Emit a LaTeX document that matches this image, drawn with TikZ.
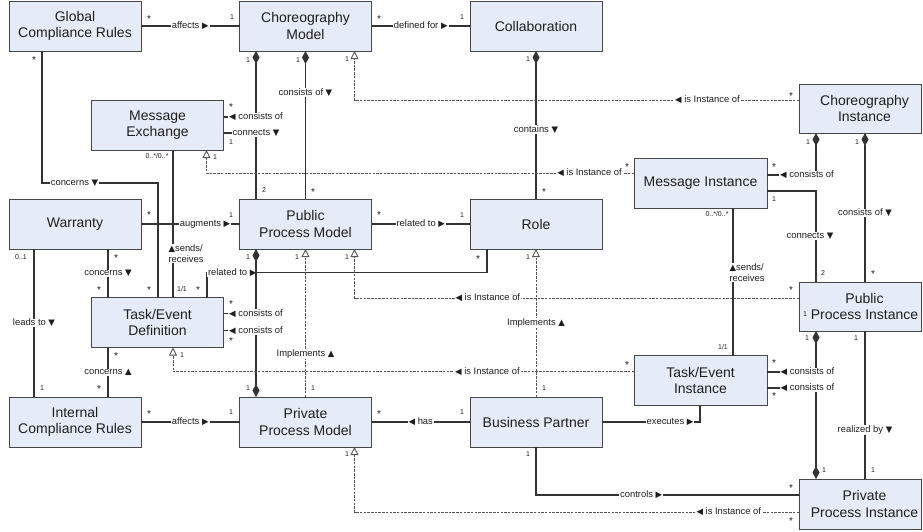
\documentclass[tikz,border=0pt]{standalone}
\usepackage{fontspec}
\setmainfont{Liberation Sans}
\newfontfamily\symf{DejaVu Sans}
\usetikzlibrary{arrows.meta,calc}
\definecolor{boxfill}{HTML}{E6ECF7}
\definecolor{boxline}{HTML}{474747}
\definecolor{lncol}{HTML}{333333}
\definecolor{dshcol}{HTML}{555555}
\definecolor{txt}{HTML}{1E1E1E}
\newcommand\tR{{\symf\fontsize{8.5}{8}\selectfont\char"25B6}}
\newcommand\tL{{\symf\fontsize{8.5}{8}\selectfont\char"25C0}}
\newcommand\tD{{\symf\fontsize{8.5}{8}\selectfont\char"25BC}}
\newcommand\tU{{\symf\fontsize{8.5}{8}\selectfont\char"25B2}}
\newcommand\rsh{\hspace*{9pt}}
\tikzset{
  box/.style={draw=boxline, fill=boxfill, line width=0.9pt, minimum width=132pt, minimum height=50pt,
    inner sep=0pt, outer sep=0pt, align=center, font=\fontsize{14}{16.7}\selectfont, text=txt},
  rbox/.style={box, minimum width=122pt, minimum height=49pt},
  mbox/.style={box, minimum width=133pt},
  ln/.style={draw=lncol, line width=1.1pt},
  dsh/.style={draw=dshcol, line width=0.9pt, dash pattern=on 2.5pt off 1.2pt},
  comp/.style={arrows={Diamond[length=13pt,width=7pt]-}},
  inst/.style={arrows={-Triangle[length=8pt,width=8pt,fill=white]}},
  lbl/.style={fill=white, inner xsep=1pt, inner ysep=0.5pt, font=\fontsize{9.4}{11}\selectfont, text=txt},
  m1/.style={inner sep=0pt, font=\fontsize{7}{8}\selectfont, text=txt},
  ms/.style={inner sep=0pt, font=\fontsize{10}{10}\selectfont, yshift=-2pt, text=txt},
}
\begin{document}
\begin{tikzpicture}[x=1pt,y=-1pt]
\useasboundingbox (0,0) rectangle (923,531);
% boxes
\node[box] (gcr) at (75,26) {Global\\Compliance Rules};
\node[box] (cm) at (305.5,26) {Choreography\\Model};
\node[box] (collab) at (536,26) {Collaboration};
\node[rbox] (ci) at (860,108.5) {\rsh Choreography\\\rsh Instance};
\node[box] (me) at (157.5,125) {Message\\Exchange};
\node[mbox] (mi) at (700.5,183) {Message Instance};
\node[box] (war) at (75,224) {Warranty};
\node[box] (ppm) at (305.5,224) {Public\\Process Model};
\node[box] (role) at (536,224) {Role};
\node[rbox] (ppi) at (860,306.5) {\rsh Public\\\rsh Process Instance};
\node[box] (ted) at (157.5,322.5) {Task/Event\\Definition};
\node[mbox] (tei) at (700.5,380.5) {Task/Event\\Instance};
\node[box] (icr) at (75,422) {Internal\\Compliance Rules};
\node[box] (privpm) at (305.5,422) {Private\\Process Model};
\node[box] (bp) at (536,422) {Business Partner};
\node[rbox, minimum height=50pt] (privpi) at (860,504) {\rsh Private\\\rsh Process Instance};
% connectors
\draw[ln] (gcr.east) -- node[lbl]{affects \tR} (cm.west);
\draw[ln] (cm.east) -- node[lbl]{defined for \tR} (collab.west);
\draw[ln,comp] (cm.south) -- node[lbl,pos=0.28]{consists of \tD} (ppm.north);
\draw[ln,comp] ($(cm.south west)+(16.5,0)$) |- node[lbl,pos=0.5]{\tL\ consists of} ($(me.north east)+(0,17)$);
\draw[ln] ($(me.north east)+(0,33)$) -| node[lbl,pos=0.5]{connects \tD} ($(ppm.north west)+(16.5,0)$);
\draw[ln,comp] (collab.south) -- node[lbl,pos=0.53]{contains \tD} (role.north);
\draw[dsh,inst] ($(ci.north west)+(0,16)$) -| node[lbl,pos=0.103]{\tL\ is Instance of} ($(cm.south west)+(115,0)$);
\draw[dsh,inst] ($(mi.north west)+(0,15)$) -| node[lbl,pos=0.052]{\tL\ is Instance of} ($(me.south west)+(115,0)$);
\draw[ln] ($(me.south west)+(81.5,0)$) -- node[lbl,pos=0.70,anchor=west,xshift=-6pt,align=left]{\tU sends/\\receives} ($(ted.north west)+(81.5,0)$);
\draw[ln] ($(gcr.south west)+(33,0)$) -- ++(0,132) -| node[lbl,pos=0.14]{concerns \tD} ($(ted.north west)+(66.5,0)$);
\draw[ln] (war.east) -- node[lbl,pos=0.65]{augments \tR} (ppm.west);
\draw[ln] ($(war.south west)+(99,0)$) -- node[lbl]{concerns \tD} ($(ted.north west)+(16.5,0)$);
\draw[ln] ($(war.south west)+(25,0)$) -- node[lbl]{leads to \tD} ($(icr.north west)+(25,0)$);
\draw[ln] ($(ted.north west)+(115.5,0)$) -- ++(0,-25) -| node[lbl,pos=0.045]{related to \tR} ($(role.south west)+(17,0)$);
\draw[ln] (ppm.east) -- node[lbl]{related to \tR} (role.west);
\draw[ln,comp] ($(ppm.south west)+(16.5,0)$) |- node[lbl,pos=0.5]{\tL\ consists of} ($(ted.north east)+(0,16)$);
\draw[ln,comp] ($(privpm.north west)+(16.5,0)$) |- node[lbl,pos=0.5]{\tL\ consists of} ($(ted.north east)+(0,33)$);
\draw[dsh,inst] ($(privpm.north west)+(66,0)$) -- node[lbl,pos=0.29]{Implements \tU} ($(ppm.south west)+(66,0)$);
\draw[dsh,inst] ($(ppi.north west)+(0,16)$) -| node[lbl,pos=0.35]{\tL\ is Instance of} ($(ppm.south west)+(115,0)$);
\draw[dsh,inst] (bp.north) -- node[lbl]{Implements \tU} (role.south);
\draw[dsh,inst] ($(tei.north west)+(0,16)$) -| node[lbl,pos=0.159]{\tL\ is Instance of} ($(ted.south west)+(81.5,0)$);
\draw[ln] ($(icr.north west)+(99,0)$) -- node[lbl]{concerns \tU} ($(ted.south west)+(16.5,0)$);
\draw[ln] (icr.east) -- node[lbl]{affects \tR} (privpm.west);
\draw[ln] (privpm.east) -- node[lbl]{\tL\ has} (bp.west);
\draw[ln] (bp.east) -| node[lbl,pos=0.347]{executes \tR} ($(tei.south west)+(66,0)$);
\draw[ln] (bp.south) |- node[lbl,pos=0.70]{controls \tR} ($(privpi.north west)+(0,16)$);
\draw[dsh,inst] ($(privpi.north west)+(0,33)$) -| node[lbl,pos=0.079]{\tL\ is Instance of} ($(privpm.south west)+(115,0)$);
\draw[ln,comp] ($(ci.south west)+(17,0)$) |- node[lbl,pos=0.5,xshift=-9pt]{\tL\ consists of} ($(mi.north east)+(0,17)$);
\draw[ln] ($(mi.north east)+(0,33)$) -| node[lbl,pos=0.747,xshift=-6pt]{connects \tD} ($(ppi.north west)+(17,0)$);
\draw[ln,comp] ($(ci.south west)+(66,0)$) -- node[lbl,pos=0.537]{consists of \tD} ($(ppi.north west)+(66,0)$);
\draw[ln] ($(mi.south west)+(99,0)$) -- node[lbl,pos=0.436,anchor=west,xshift=-5pt,align=left]{\tU sends/\\receives} ($(tei.north west)+(99,0)$);
\draw[ln,comp] ($(ppi.south west)+(17,0)$) |- node[lbl,pos=0.5,xshift=-8.5pt]{\tL\ consists of} ($(tei.north east)+(0,16.5)$);
\draw[ln,comp] ($(privpi.north west)+(17,0)$) |- node[lbl,pos=0.5,xshift=-8.5pt]{\tL\ consists of} ($(tei.north east)+(0,32.5)$);
\draw[ln] ($(ppi.south west)+(66,0)$) -- node[lbl,pos=0.669]{realized by \tD} ($(privpi.north west)+(66,0)$);
% multiplicities
\node[ms] (s1) at (149,17) {*};
\node[m1] (n1) at (232,17) {1};
\node[ms] (s2) at (379,17) {*};
\node[m1] (n2) at (462,17) {1};
\node[m1] (n3) at (248,60) {1};
\node[m1] (n4) at (298,60) {1};
\node[m1] (n5) at (347,59) {1};
\node[m1] (n6) at (528,59) {1};
\node[ms] (s3) at (34,58) {*};
\node[ms] (s4) at (231,105.5) {*};
\node[m1] (n7) at (231,142) {1};
\node[m1] (n8) at (157,156) {0..*/0..*};
\node[m1] (n9) at (215,157) {1};
\node[ms] (s5) at (791,94) {*};
\node[m1] (n10) at (808,142) {1};
\node[m1] (n11) at (857,142) {1};
\node[ms] (s6) at (627,165) {*};
\node[ms] (s7) at (774,165) {*};
\node[m1] (n12) at (774,199) {1};
\node[m1] (n13) at (717,214) {0..*/0..*};
\node[m1] (n14) at (264,190) {2};
\node[ms] (s8) at (313,190) {*};
\node[ms] (s9) at (544,190) {*};
\node[ms] (s10) at (149,213) {*};
\node[m1] (n15) at (231,215) {1};
\node[ms] (s11) at (379,213) {*};
\node[m1] (n16) at (462,215) {1};
\node[m1] (n17) at (21,257) {0..1};
\node[ms] (s12) at (116,256) {*};
\node[m1] (n18) at (248,257) {1};
\node[m1] (n19) at (297,257) {1};
\node[m1] (n20) at (347,257) {1};
\node[ms] (s13) at (478,257) {*};
\node[m1] (n21) at (528,257) {1};
\node[ms] (s14) at (99,288) {*};
\node[ms] (s15) at (149,288) {*};
\node[m1] (n22) at (182,289) {1/1};
\node[ms] (s16) at (198,288) {*};
\node[ms] (s17) at (231,302.5) {*};
\node[ms] (s18) at (231,339) {*};
\node[m1] (n23) at (823,273) {2};
\node[ms] (s19) at (873,272) {*};
\node[ms] (s20) at (791,288) {*};
\node[m1] (n24) at (805,314) {1};
\node[ms] (s21) at (116,354) {*};
\node[m1] (n25) at (182,355) {1};
\node[m1] (n26) at (723,347) {1/1};
\node[m1] (n27) at (807,338) {1};
\node[m1] (n28) at (856,338) {1};
\node[ms] (s22) at (627,363) {*};
\node[ms] (s23) at (774,361) {*};
\node[ms] (s24) at (774,394) {*};
\node[m1] (n29) at (42,388) {1};
\node[ms] (s25) at (99,387) {*};
\node[m1] (n30) at (248,388) {1};
\node[m1] (n31) at (313,388) {1};
\node[m1] (n32) at (544,388) {1};
\node[ms] (s26) at (149,412) {*};
\node[m1] (n33) at (231,412) {1};
\node[ms] (s27) at (379,412) {*};
\node[m1] (n34) at (462,412) {1};
\node[m1] (n35) at (347,454) {1};
\node[m1] (n36) at (528,454) {1};
\node[m1] (n37) at (824,470) {1};
\node[m1] (n38) at (873,470) {1};
\node[ms] (s28) at (791,486) {*};
\node[ms] (s29) at (791,519) {*};
\end{tikzpicture}
\end{document}
